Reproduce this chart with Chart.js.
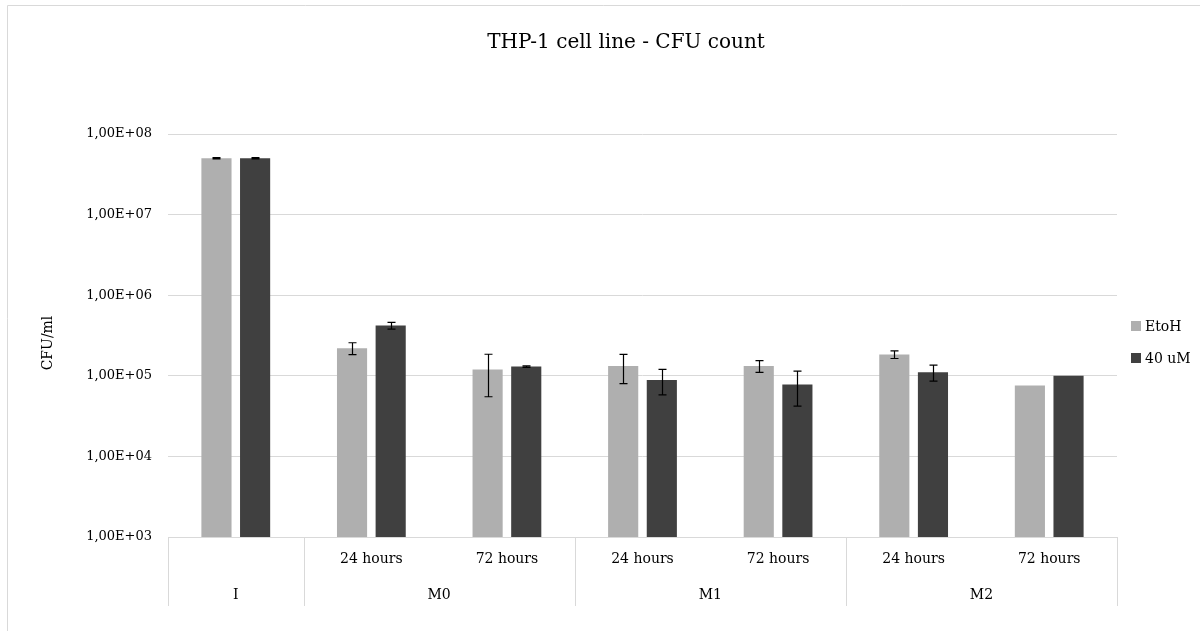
<!DOCTYPE html>
<html>
<head>
<meta charset="utf-8">
<title>THP-1 cell line - CFU count</title>
<script src="https://cdn.jsdelivr.net/npm/chart.js@4.4.1/dist/chart.umd.min.js"></script>
<style>
  html, body { margin: 0; padding: 0; background: #fff; }
  #wrap { width: 1200px; height: 631px; }
</style>
</head>
<body>
<div id="wrap"><canvas id="cfuChart" width="1200" height="631"></canvas></div>
<script>
// categories: time point (sub label) and cell type (group)
const timeLabels = ['', '24 hours', '72 hours', '24 hours', '72 hours', '24 hours', '72 hours'];
const cellGroups = ['I', 'M0', 'M0', 'M1', 'M1', 'M2', 'M2'];

// CFU/ml per series, with standard deviation (null = no bar)
const etohValues = [5.0e7, 2.2e5, 1.2e5, 1.32e5, 1.32e5, 1.84e5, 7.6e4];
const etohErrors = [1.0e6, 3.7e4, 6.5e4, 5.2e4, 2.2e4, 2.0e4, null];
const uMValues = [5.0e7, 4.2e5, 1.3e5, 8.9e4, 7.8e4, 1.11e5, 1.0e5];
const uMErrors = [1.0e6, 4.0e4, 3.0e3, 3.1e4, 3.6e4, 2.5e4, null];

const yTicks = [1e3, 1e4, 1e5, 1e6, 1e7, 1e8];

const chartTitle = 'THP-1 cell line - CFU count';
const FONT = '"DejaVu Serif", serif';
const LINE = '#d9d9d9';

// excel-style "1,00E+05"
const sciLabel = v => {
  const exp = Math.round(Math.log10(v));
  return '1,00E+' + String(exp).padStart(2, '0');
};

const errorBars = {
  id: 'errorBars',
  afterDatasetsDraw(chart) {
    const { ctx } = chart;
    const y = chart.scales.y;
    ctx.save();
    ctx.strokeStyle = '#000';
    ctx.lineWidth = 1.2;
    chart.data.datasets.forEach((ds, di) => {
      const meta = chart.getDatasetMeta(di);
      meta.data.forEach((bar, i) => {
        const err = ds.errors[i];
        if (err == null) return;
        const v = ds.data[i];
        const top = y.getPixelForValue(v + err);
        const bot = y.getPixelForValue(Math.max(v - err, y.min));
        const x = Math.round(bar.x) + 0.5;
        ctx.beginPath();
        ctx.moveTo(x, top); ctx.lineTo(x, bot);
        ctx.moveTo(x - 4, top); ctx.lineTo(x + 4, top);
        ctx.moveTo(x - 4, bot); ctx.lineTo(x + 4, bot);
        ctx.stroke();
      });
    });
    ctx.restore();
  }
};

// frame, title, two-level category table under the x axis, legend on the right
const decorations = {
  id: 'decorations',
  beforeDraw(chart) {
    const { ctx } = chart;
    ctx.save();
    ctx.strokeStyle = LINE;
    ctx.lineWidth = 1;
    ctx.beginPath();
    ctx.moveTo(7.5, chart.height);
    ctx.lineTo(7.5, 5.5);
    ctx.lineTo(chart.width, 5.5);
    ctx.stroke();

    ctx.fillStyle = '#000';
    ctx.font = '20px ' + FONT;
    ctx.textAlign = 'center';
    ctx.textBaseline = 'middle';
    ctx.fillText(chartTitle, 626, 43);
    ctx.restore();
  },
  afterDraw(chart) {
    const { ctx, chartArea } = chart;
    const x = chart.scales.x;
    const step = x.getPixelForValue(1) - x.getPixelForValue(0);
    const bottom = chartArea.bottom;
    ctx.save();
    ctx.strokeStyle = LINE;
    ctx.lineWidth = 1;
    ctx.fillStyle = '#000';
    ctx.font = '14px ' + FONT;
    ctx.textAlign = 'center';
    ctx.textBaseline = 'middle';

    let start = 0;
    for (let i = 1; i <= cellGroups.length; i++) {
      if (i < cellGroups.length && cellGroups[i] === cellGroups[start]) continue;
      const left = x.getPixelForValue(start) - step / 2;
      const right = x.getPixelForValue(i - 1) + step / 2;
      ctx.fillText(cellGroups[start], (left + right) / 2, 595);
      start = i;
    }
    // group separators
    const edges = [0];
    cellGroups.forEach((g, i) => { if (i > 0 && g !== cellGroups[i - 1]) edges.push(i); });
    edges.push(cellGroups.length);
    ctx.beginPath();
    edges.forEach(e => {
      const px = Math.round(x.getPixelForValue(e) - step / 2) + 0.5;
      ctx.moveTo(px, bottom);
      ctx.lineTo(px, 606);
    });
    ctx.stroke();

    // y axis title
    ctx.save();
    ctx.translate(48, 343);
    ctx.rotate(-Math.PI / 2);
    ctx.fillText('CFU/ml', 0, 0);
    ctx.restore();

    // legend
    ctx.textAlign = 'left';
    const legendRows = [326, 358];
    chart.data.datasets.forEach((ds, di) => {
      const cy = legendRows[di];
      ctx.fillStyle = ds.backgroundColor;
      ctx.fillRect(1131, cy - 5, 10, 10);
      ctx.fillStyle = '#000';
      ctx.fillText(ds.label, 1145, cy + 1);
    });
    ctx.restore();
  }
};

new Chart(document.getElementById('cfuChart'), {
  type: 'bar',
  data: {
    labels: timeLabels,
    datasets: [
      { label: 'EtoH', data: etohValues, errors: etohErrors, backgroundColor: '#afafaf' },
      { label: '40 uM', data: uMValues, errors: uMErrors, backgroundColor: '#404040' }
    ]
  },
  options: {
    responsive: false,
    animation: false,
    categoryPercentage: 0.57,
    barPercentage: 0.78,
    layout: { padding: { left: 0, right: 83, top: 134, bottom: 0 } },
    plugins: {
      legend: { display: false },
      tooltip: { enabled: false },
      title: { display: false }
    },
    scales: {
      x: {
        grid: { display: false, drawTicks: false },
        border: { display: true, color: LINE },
        ticks: { color: '#000', font: { family: FONT, size: 14 }, padding: 14, maxRotation: 0, autoSkip: false },
        afterFit: s => { s.height = 94; }
      },
      y: {
        type: 'logarithmic',
        min: 1e3,
        max: 1e8,
        afterBuildTicks: s => { s.ticks = yTicks.map(v => ({ value: v, major: true })); },
        grid: { color: LINE, drawTicks: false },
        border: { display: false },
        ticks: { color: '#000', font: { family: FONT, size: 13 }, padding: 16, callback: v => sciLabel(v) },
        afterFit: s => { s.width = 168; }
      }
    }
  },
  plugins: [decorations, errorBars]
});
</script>
</body>
</html>
